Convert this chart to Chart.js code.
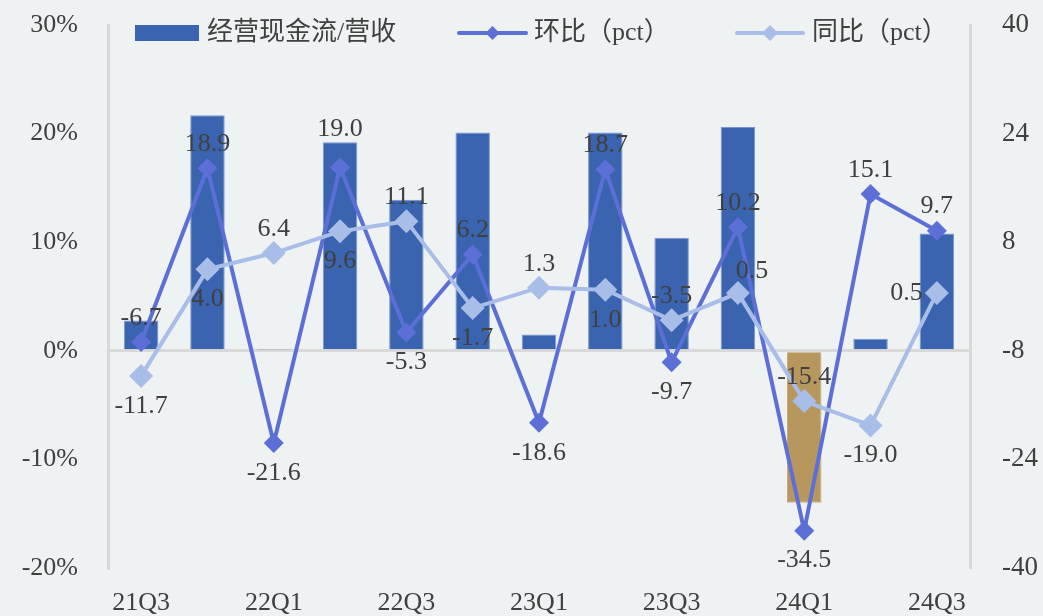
<!DOCTYPE html>
<html>
<head>
<meta charset="utf-8">
<script src="https://cdn.jsdelivr.net/npm/chart.js@4.4.0/dist/chart.umd.min.js"></script>
<style>
  html, body { margin: 0; padding: 0; background: #EEF2F3; }
  #wrap { width: 1043px; height: 616px; position: relative; }
</style>
</head>
<body>
<div id="wrap"><canvas id="myCanvas"></canvas></div>
<script>
// data
const quarters = ['21Q3','21Q4','22Q1','22Q2','22Q3','22Q4','23Q1','23Q2','23Q3','23Q4','24Q1','24Q2','24Q3'];
const cashRatio = [2.8, 21.7, 0.1, 19.2, 13.9, 20.1, 1.5, 20.1, 10.4, 20.6, -14.0, 1.1, 10.8];
const qoq = [-6.7, 18.9, -21.6, 19.0, -5.3, 6.2, -18.6, 18.7, -9.7, 10.2, -34.5, 15.1, 9.7];
const yoy = [-11.7, 4.0, 6.4, 9.6, 11.1, -1.7, 1.3, 1.0, -3.5, 0.5, -15.4, -19.0, 0.5];
const leftTicks = [-20, -10, 0, 10, 20, 30];
const rightTicks = [-40, -24, -8, 8, 24, 40];
const seriesNames = ['经营现金流/营收', '环比（pct）', '同比（pct）'];

// where each value label sits: t = above, tt = higher above, b = below, l = left, tr = above right
const qoqPos = ['t','t','b','tt','b','t','b','t','b','t','b','t','t'];
const yoyPos = ['b','b','t','b','t','b','t','b','t','tr','t','b','l'];

const FONT = '"Liberation Serif", "Noto Sans CJK SC", serif';
const TXT = '#404040';
const BAR = '#3A64AF', BAR_NEG = '#B8975F';
const DARK = '#5B6FD7', LIGHT = '#A8BDE7';
const AXIS = '#D9D9D9';

// value labels
const valueLabels = {
  id: 'valueLabels',
  afterDatasetsDraw(chart){
    const ctx = chart.ctx;
    ctx.save();
    ctx.font = '26px ' + FONT;
    ctx.fillStyle = TXT;
    ctx.textBaseline = 'middle';
    [[1, qoq, qoqPos], [2, yoy, yoyPos]].forEach(([di, vals, pos])=>{
      chart.getDatasetMeta(di).data.forEach((pt, i)=>{
        let x = pt.x, y = pt.y;
        ctx.textAlign = 'center';
        switch(pos[i]){
          case 't': y -= 24; break;
          case 'tt': y -= 38; break;
          case 'b': y += 30; break;
          case 'tr': y -= 22; x += 14; break;
          case 'l': x -= 14; ctx.textAlign = 'right'; break;
        }
        ctx.fillText(vals[i].toFixed(1), x, y);
      });
    });
    ctx.restore();
  }
};

// legend drawn inside the plot top
const topLegend = {
  id: 'topLegend',
  afterDraw(chart){
    const ctx = chart.ctx;
    const cy = 33;
    ctx.save();
    ctx.font = '26px ' + FONT;
    ctx.textBaseline = 'middle';
    ctx.textAlign = 'left';
    // bar item
    ctx.fillStyle = BAR;
    ctx.fillRect(135, 25, 64, 16);
    ctx.fillStyle = TXT;
    ctx.fillText(seriesNames[0], 207, cy);
    // line items
    [[459, 526, DARK, 7, seriesNames[1], 534], [737, 803, LIGHT, 8, seriesNames[2], 812]].forEach(([x0, x1, col, r, name, tx])=>{
      ctx.strokeStyle = col;
      ctx.lineWidth = 4;
      ctx.lineCap = 'round';
      ctx.beginPath(); ctx.moveTo(x0, cy); ctx.lineTo(x1, cy); ctx.stroke();
      const mx = (x0 + x1) / 2;
      ctx.fillStyle = col;
      ctx.beginPath();
      ctx.moveTo(mx - r, cy); ctx.lineTo(mx, cy - r); ctx.lineTo(mx + r, cy); ctx.lineTo(mx, cy + r);
      ctx.closePath(); ctx.fill();
      ctx.fillStyle = TXT;
      ctx.fillText(name, tx, cy);
    });
    ctx.restore();
  }
};

// fixed axis box, no extra padding from tick labels
function fixY(width){
  return (s) => { s.width = width; s.paddingTop = 0; s.paddingBottom = 0; };
}

const ctx = document.querySelector('#myCanvas').getContext('2d');
const myChart = new Chart(ctx, {
  type: 'bar',
  data: {
    labels: quarters,
    datasets: [
      {
        type: 'bar',
        label: seriesNames[0],
        data: cashRatio,
        yAxisID: 'y',
        backgroundColor: cashRatio.map(v => v < 0 ? BAR_NEG : BAR),
        borderColor: cashRatio.map(v => v < 0 ? '#C8AA78' : '#7B96CE'),
        borderWidth: 1,
        categoryPercentage: 1,
        barPercentage: 0.52,
        order: 3
      },
      {
        type: 'line',
        label: seriesNames[1],
        data: qoq,
        yAxisID: 'y1',
        borderColor: DARK,
        backgroundColor: DARK,
        borderWidth: 4,
        pointStyle: 'rectRot',
        pointRadius: 10,
        pointBorderWidth: 0,
        tension: 0,
        order: 2
      },
      {
        type: 'line',
        label: seriesNames[2],
        data: yoy,
        yAxisID: 'y1',
        borderColor: LIGHT,
        backgroundColor: LIGHT,
        borderWidth: 4,
        pointStyle: 'rectRot',
        pointRadius: 12,
        pointBorderWidth: 0,
        tension: 0,
        order: 1
      }
    ]
  },
  options: {
    responsive: true,
    maintainAspectRatio: false,
    animation: false,
    layout: { padding: { top: 25, left: 0, right: 0, bottom: 0 } },
    plugins: { legend: { display: false }, tooltip: { enabled: false } },
    scales: {
      x: {
        offset: true,
        grid: { display: false },
        border: { display: false },
        ticks: {
          autoSkip: false,
          maxRotation: 0,
          padding: 12,
          color: TXT,
          font: { family: FONT, size: 26 },
          callback: (v, i) => i % 2 === 0 ? quarters[i] : ''
        },
        afterFit: (s) => { s.height = 48; }
      },
      y: {
        position: 'left',
        min: leftTicks[0],
        max: leftTicks[leftTicks.length - 1],
        afterBuildTicks: (s) => { s.ticks = leftTicks.map(v => ({ value: v })); },
        grid: {
          drawTicks: false,
          lineWidth: 3,
          color: (c) => c.tick && c.tick.value === 0 ? AXIS : 'transparent'
        },
        border: { display: true, color: AXIS, width: 3 },
        ticks: {
          padding: 30,
          color: TXT,
          font: { family: FONT, size: 26 },
          callback: (v) => v + '%'
        },
        afterFit: fixY(108)
      },
      y1: {
        position: 'right',
        min: rightTicks[0],
        max: rightTicks[rightTicks.length - 1],
        afterBuildTicks: (s) => { s.ticks = rightTicks.map(v => ({ value: v })); },
        grid: { display: false, drawTicks: false },
        border: { display: true, color: AXIS, width: 3 },
        ticks: {
          padding: 32,
          color: TXT,
          font: { family: FONT, size: 27 }
        },
        afterFit: fixY(73)
      }
    }
  },
  plugins: [valueLabels, topLegend]
});
</script>
</body>
</html>
